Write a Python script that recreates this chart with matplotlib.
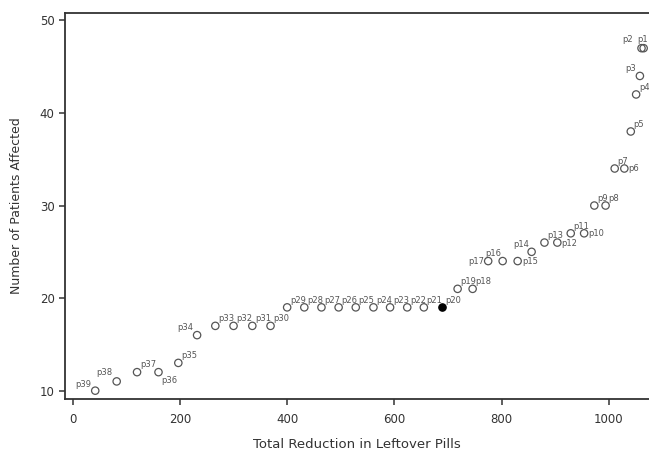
import matplotlib
matplotlib.use("Agg")
import matplotlib.pyplot as plt

# patients p1..p39: total reduction in leftover pills, number of patients affected
labels = ["p%d" % i for i in range(1, 40)]
reduction = [1065, 1061, 1058, 1051, 1041, 1029, 1011, 994, 973, 954,
             929, 904, 880, 856, 830, 802, 775, 746, 718, 689,
             655, 624, 592, 561, 528, 496, 464, 432, 400, 369,
             335, 300, 266, 232, 197, 160, 120, 82, 42]
patients = [47, 47, 44, 42, 38, 34, 34, 30, 30, 27,
            27, 26, 26, 25, 24, 24, 24, 21, 21, 19,
            19, 19, 19, 19, 19, 19, 19, 19, 19, 17,
            17, 17, 17, 16, 13, 12, 12, 11, 10]
highlight = "p20"

# where each label sits around its marker: (dx, dy) in points, ha, va
above_right = ((2, 2), "left", "bottom")
place = {l: above_right for l in labels}
place.update({
    "p1": ((3, 3), "right", "bottom"),
    "p2": ((-6, 3), "right", "bottom"),
    "p3": ((-3, 2), "right", "bottom"),
    "p6": ((3, 0), "left", "center"),
    "p10": ((3, 0), "left", "center"),
    "p12": ((3, -1), "left", "center"),
    "p14": ((-2, 2), "right", "bottom"),
    "p15": ((3, 0), "left", "center"),
    "p16": ((-1, 2), "right", "bottom"),
    "p17": ((-3, 0), "right", "center"),
    "p34": ((-3, 2), "right", "bottom"),
    "p36": ((2, -3), "left", "top"),
    "p38": ((-3, 3), "right", "bottom"),
    "p39": ((-3, 1), "right", "bottom"),
})

fig = plt.figure(figsize=(6.49, 4.55), dpi=100)
ax = fig.add_axes([65 / 649, 56 / 455, 1 - 65 / 649, 386 / 455])

dark = "#333333"
for lab, x, y in zip(labels, reduction, patients):
    face = "black" if lab == highlight else "none"
    edge = "black" if lab == highlight else "#555555"
    ax.scatter(x, y, s=28, facecolors=face, edgecolors=edge, linewidths=0.9, zorder=3)
    (dx, dy), ha, va = place[lab]
    ax.annotate(lab, (x, y), xytext=(dx, dy), textcoords="offset points",
                ha=ha, va=va, fontsize=6, color="#555555")

ax.set_xlim(-14.4, 1075)
ax.set_ylim(9.1, 50.8)
ax.set_xticks([0, 200, 400, 600, 800, 1000])
ax.set_yticks([10, 20, 30, 40, 50])
ax.spines["right"].set_visible(False)
for s in ["left", "bottom", "top"]:
    ax.spines[s].set_color(dark)
    ax.spines[s].set_linewidth(1.3)
ax.tick_params(colors=dark, labelsize=8.5, length=4, width=1.1)
ax.tick_params(axis="x", pad=6)
ax.set_xlabel("Total Reduction in Leftover Pills", fontsize=9.5, color=dark, labelpad=9)
ax.set_ylabel("Number of Patients Affected", fontsize=9, color=dark, labelpad=12)

fig.savefig("out.png", dpi=100)
